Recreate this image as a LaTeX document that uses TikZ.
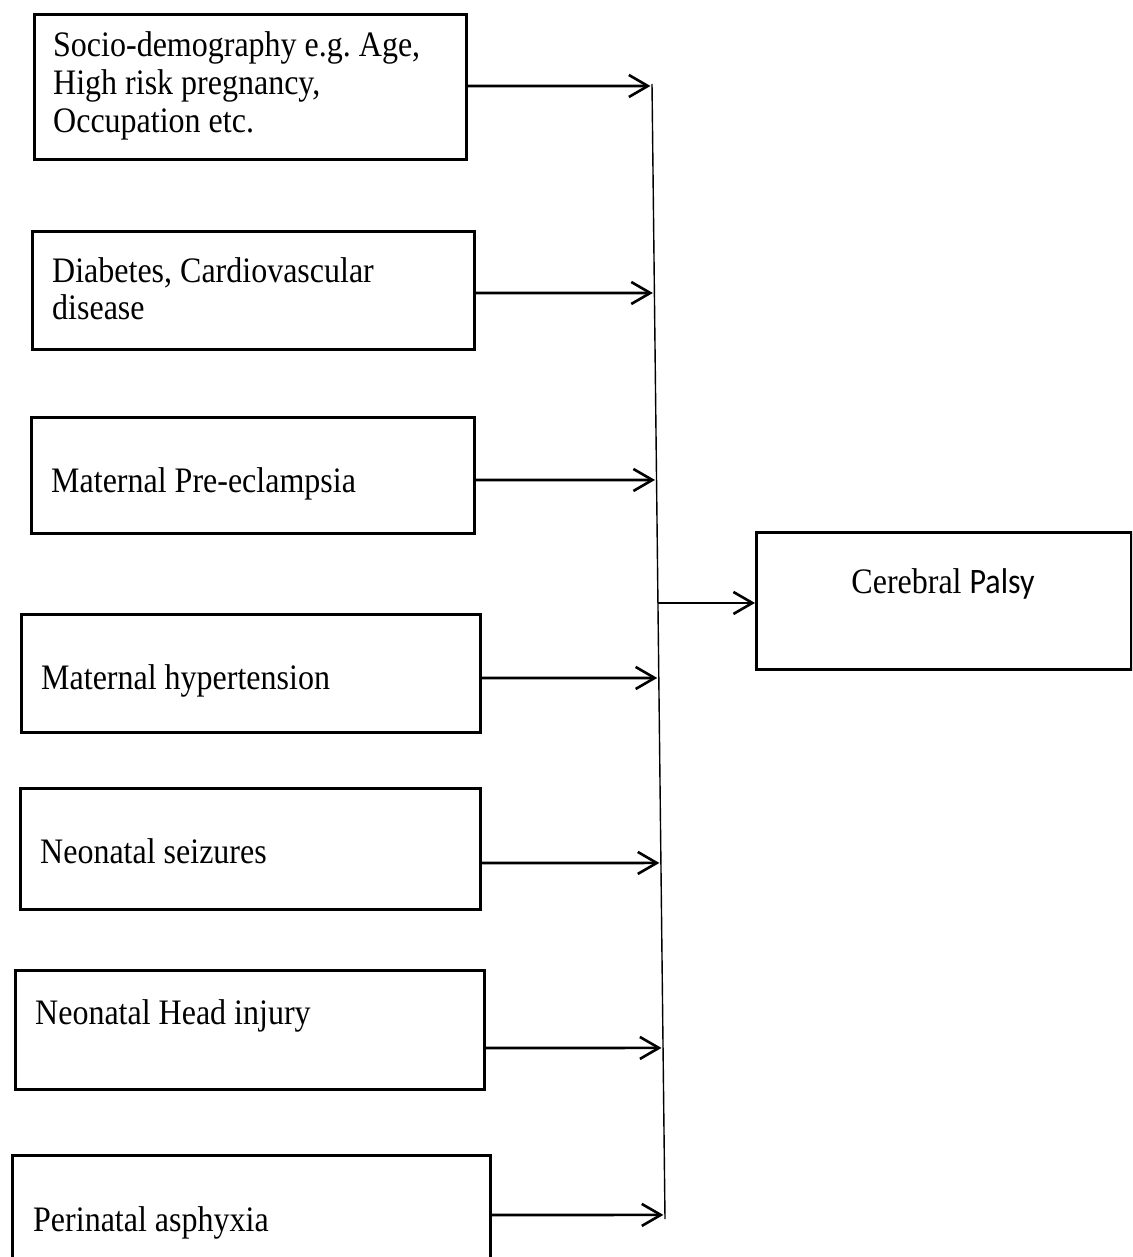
\documentclass[tikz,border=0pt]{standalone}
\usepackage{graphicx}
\usepackage{fontspec}
\setmainfont{Liberation Serif}
\newfontfamily\calibrifont{Carlito}
\usetikzlibrary{arrows.meta,calc}
\frenchspacing
\newcommand{\tallt}[1]{\scalebox{1}[1.12]{#1}}
\begin{document}
\begin{tikzpicture}[x=1pt,y=-1pt,
  box/.style={draw=black,line width=2.6pt,rectangle,inner sep=0pt,anchor=north west},
  txt/.style={anchor=base west,inner sep=0pt,align=left,font=\fontsize{32}{38}\selectfont},
  arr/.style={line width=2.6pt,-{Straight Barb[length=19pt,width=22pt,line width=2.6pt]}},
  spine/.style={line width=1.4pt}]
\useasboundingbox (0,0) rectangle (1132,1257);
\clip (0,0) rectangle (1132,1257);
% left boxes
\node[box,minimum width=432pt,minimum height=145pt] (b1) at (33,13) {};
\node[box,minimum width=442pt,minimum height=118pt] (b2) at (31,230) {};
\node[box,minimum width=443pt,minimum height=116pt] (b3) at (30,416) {};
\node[box,minimum width=459pt,minimum height=118pt] (b4) at (20,613) {};
\node[box,minimum width=460pt,minimum height=121pt] (b5) at (19,787) {};
\node[box,minimum width=469pt,minimum height=119pt] (b6) at (14,969) {};
\node[box,minimum width=478pt,minimum height=120pt] (b7) at (11,1154) {};
% texts
\node[txt] (t1a) at (53,57) {\tallt{Socio-demography e.g. Age,}};
\node[txt] (t1b) at (53,95) {\tallt{High risk pregnancy,}};
\node[txt] (t1c) at (53,133) {\tallt{Occupation etc.}};
\node[txt] (t2a) at (52,282) {\tallt{Diabetes, Cardiovascular}};
\node[txt] (t2b) at (52,319) {\tallt{disease}};
\node[txt] (t3) at (51,492) {\tallt{Maternal Pre-eclampsia}};
\node[txt] (t4) at (41,689) {\tallt{Maternal hypertension}};
\node[txt] (t5) at (40,863) {\tallt{Neonatal seizures}};
\node[txt] (t6) at (35,1024) {\tallt{Neonatal Head injury}};
\node[txt] (t7) at (33,1231) {\tallt{Perinatal asphyxia}};
% target box
\node[box,minimum width=375pt,minimum height=137pt] (cp) at (755,531) {};
\node[anchor=base,inner sep=0pt,font=\fontsize{32}{38}\selectfont] (cpt) at (943,593) {\tallt{Cerebral {\calibrifont Palsy}}};
% spine
\coordinate (ltop) at (652,84);
\coordinate (lbot) at (665,1219);
\draw[spine] (ltop) -- (lbot);
% arrows into spine
\coordinate (s1) at (b1.east |- 0,86);
\coordinate (s2) at (b2.east |- 0,293);
\coordinate (s3) at (b3.east |- 0,480);
\coordinate (s4) at (b4.east |- 0,678);
\coordinate (s5) at (b5.east |- 0,863);
\coordinate (s6) at (b6.east |- 0,1048);
\coordinate (s7) at (b7.east |- 0,1215);
\foreach \i in {1,...,7}{
  \coordinate (h\i) at ($(s\i)+(300,0)$);
  \coordinate (e\i) at (intersection of ltop--lbot and s\i--h\i);
  \draw[arr,shorten >=1.5pt] (s\i) -- (e\i);
}
% arrow to Cerebral Palsy
\coordinate (jy) at (0,603);
\coordinate (jx) at (1000,603);
\coordinate (j) at (intersection of ltop--lbot and jy--jx);
\draw[arr] (j) -- (cp.west |- j);
\end{tikzpicture}
\end{document}
